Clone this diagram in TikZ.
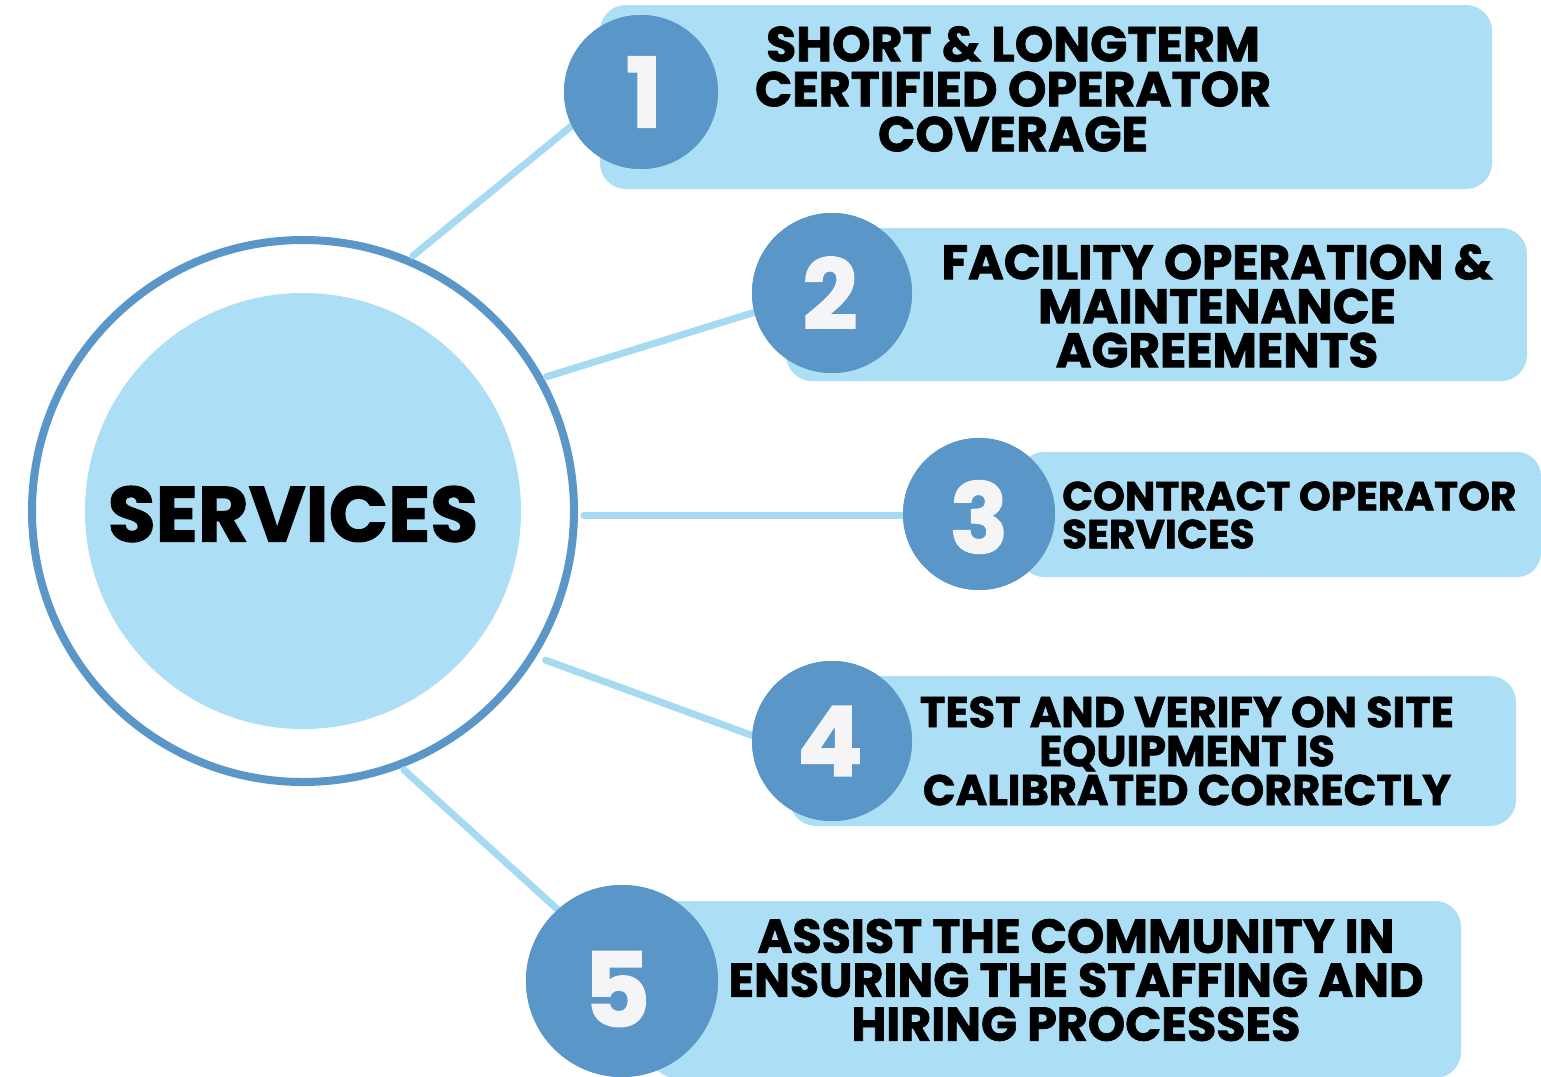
\documentclass[tikz,border=0pt]{standalone}
\usepackage{fontspec}
\setmainfont{Poppins}[BoldFeatures={FakeBold=1.5}]
\begin{document}
\begin{tikzpicture}[x=1pt,y=-1pt,
  numcirc/.style={circle,fill=numblue,draw=none,inner sep=0pt},
  numtxt/.style={text=numwhite,inner sep=0pt,font=\bfseries\fontsize{97}{97}\selectfont},
  conn/.style={draw=lineblue,line width=7pt,line cap=round},
  lbl/.style={inner sep=0pt,align=center,text=black}
]
\definecolor{boxblue}{HTML}{ACDFF5}
\definecolor{numblue}{HTML}{5A97C8}
\definecolor{lineblue}{HTML}{A6DAF2}
\definecolor{numwhite}{HTML}{F5F5F7}
\definecolor{ringblue}{HTML}{5A97C8}
\useasboundingbox (0,0) rectangle (1541,1076);
\fill[white] (0,0) rectangle (1541,1076);

% boxes
\fill[boxblue,rounded corners=26pt] (600,5) rectangle (1492,189);
\fill[boxblue,rounded corners=26pt] (786,228) rectangle (1527,381);
\fill[boxblue,rounded corners=24pt] (1020,452) rectangle (1541,577);
\fill[boxblue,rounded corners=26pt] (790,676) rectangle (1516,826);
\fill[boxblue,rounded corners=26pt] (650,901) rectangle (1461,1078);

% central circles
\node[circle,draw=ringblue,line width=8pt,minimum size=542pt,inner sep=0pt] (outer) at (303,511) {};
\node[circle,fill=boxblue,minimum size=436pt,inner sep=0pt] (inner) at (303,511) {};
\node[inner sep=0pt,font=\bfseries\fontsize{78}{78}\selectfont] (title) at (293,514) {SERVICES};

% number circles
\node[numcirc,minimum size=154pt] (n1) at (641,92) {};
\node[numcirc,minimum size=160pt] (n2) at (832,293) {};
\node[numcirc,minimum size=152pt] (n3) at (979,514) {};
\node[numcirc,minimum size=160pt] (n4) at (832,741) {};
\node[numcirc,minimum size=192pt] (n5) at (622,981) {};

% connectors
\draw[conn,shorten <=3pt] (outer.67) -- (n1.206);
\draw[conn,shorten <=3pt] (outer.29) -- (n2.194);
\draw[conn,shorten <=6pt] (outer.-1) -- (n3.west |- outer.-1);
\draw[conn,shorten <=10pt] (outer.-32) -- (n4.176);
\draw[conn,shorten <=3pt] (outer.-69) -- (n5.132);

% number circles on top of connectors
\fill[numblue] (n1) circle (77pt);
\fill[numblue] (n2) circle (80pt);
\fill[numblue] (n3) circle (76pt);
\fill[numblue] (n4) circle (80pt);
\fill[numblue] (n5) circle (96pt);

\node[numtxt] (d1) at (644,92) {1};
\node[numtxt] (d2) at (830,293) {2};
\node[numtxt] (d3) at (979,517) {3};
\node[numtxt] (d4) at (830,741) {4};
\node[numtxt,font=\bfseries\fontsize{103}{103}\selectfont] (d5) at (617,989) {5};

% labels
\node[lbl,font=\bfseries\fontsize{49}{45}\selectfont] (t1) at (1013,89) {SHORT \& LONGTERM\\CERTIFIED OPERATOR\\COVERAGE};
\node[lbl,font=\bfseries\fontsize{48.5}{44}\selectfont] (t2) at (1217,306) {FACILITY OPERATION \&\\MAINTENANCE\\AGREEMENTS};
\node[lbl,align=left,anchor=west,font=\bfseries\fontsize{40.5}{38}\selectfont] (t3) at (1062,515) {CONTRACT OPERATOR\\SERVICES};
\node[lbl,font=\bfseries\fontsize{43}{39}\selectfont] (t4) at (1187,751) {TEST AND VERIFY ON SITE\\EQUIPMENT IS\\CALIBRATED CORRECTLY};
\node[lbl,font=\bfseries\fontsize{47.5}{44}\selectfont] (t5) at (1076,980) {ASSIST THE COMMUNITY IN\\ENSURING THE STAFFING AND\\HIRING PROCESSES};
\end{tikzpicture}
\end{document}
